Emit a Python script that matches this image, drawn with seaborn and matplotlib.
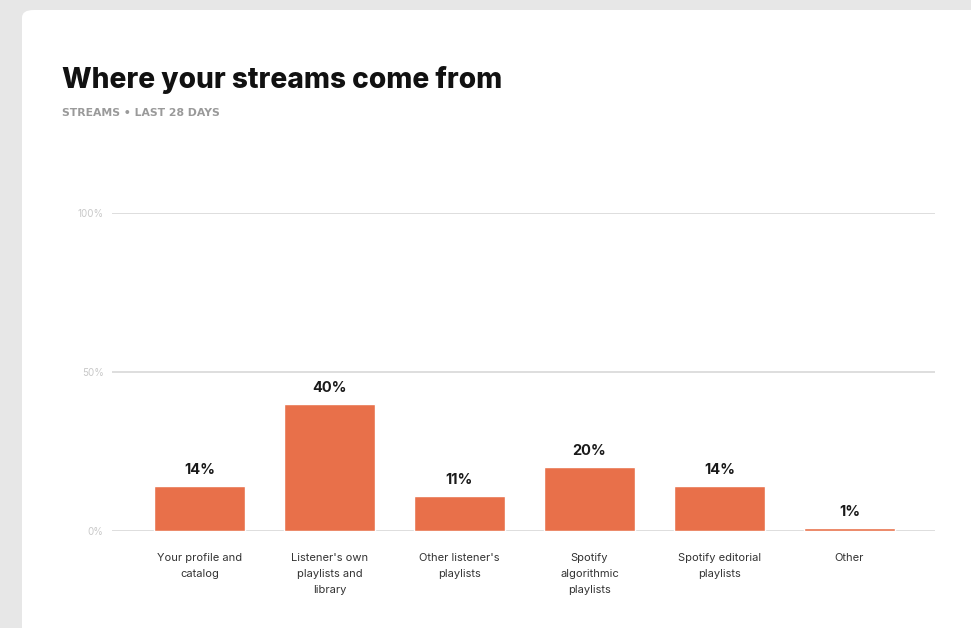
import matplotlib
matplotlib.use("Agg")
import matplotlib.pyplot as plt
from matplotlib.patches import FancyBboxPatch
import seaborn as sns
import pandas as pd

categories = [
    "Your profile and\ncatalog",
    "Listener's own\nplaylists and\nlibrary",
    "Other listener's\nplaylists",
    "Spotify\nalgorithmic\nplaylists",
    "Spotify editorial\nplaylists",
    "Other",
]
values = [14, 40, 11, 20, 14, 1]
value_labels = ["14%", "40%", "11%", "20%", "14%", "1%"]
ytick_values = [0, 50, 100]
ytick_labels = ["0%", "50%", "100%"]

title = "Where your streams come from"
subtitle = "STREAMS \u2022 LAST 28 DAYS"

sns.set_theme(style="white")
plt.rcParams["font.family"] = ["Inter", "DejaVu Sans"]

W, H = 971, 628
fig = plt.figure(figsize=(W / 100, H / 100), dpi=100)
fig.patch.set_facecolor("#e7e7e7")

# white card
card = FancyBboxPatch((22 / W, -0.05), 1.0, 1 - 10 / H + 0.05,
                      boxstyle="round,pad=0,rounding_size=0.012",
                      transform=fig.transFigure, facecolor="white",
                      edgecolor="none", zorder=-10)
fig.patches.append(card)

ax = fig.add_axes([112 / W, 1 - 531 / H, (935 - 112) / W, (531 - 213) / H])
ax.set_zorder(5)
ax.set_facecolor("none")

df = pd.DataFrame({"category": categories, "value": values})
sns.barplot(data=df, x="category", y="value", color="#e8704a",
            saturation=1, width=0.7, ax=ax, zorder=3)

ax.set_ylim(0, 100)
ax.set_xlim(-0.673, 5.658)
ax.set_yticks(ytick_values)
ax.set_yticklabels(ytick_labels, fontsize=7, color="#c8c8c8")
ax.yaxis.grid(True, color="#dedede", linewidth=1.44, zorder=0)
ax.set_axisbelow(True)
ax.tick_params(axis="y", length=0, pad=6)
ax.tick_params(axis="x", length=0, pad=16)
ax.set_xticks(range(len(categories)))
ax.set_xticklabels(categories, fontsize=8, color="#333333", linespacing=1.75, va="top")
for s in ax.spines.values():
    s.set_visible(False)
ax.set_xlabel("")
ax.set_ylabel("")

for i, (v, lab) in enumerate(zip(values, value_labels)):
    ax.annotate(lab, (i, v), xytext=(0, 6.5), textcoords="offset points",
                ha="center", va="bottom", fontsize=10.5, fontweight="bold",
                color="#1a1a1a")

fig.text(62 / W, 1 - 88 / H, title, fontsize=20.2, fontweight="heavy",
         color="#111111", ha="left", va="baseline")
fig.text(62 / W, 1 - 116 / H, subtitle, fontsize=7.8, fontweight="bold",
         family="DejaVu Sans", color="#9a9a9a", ha="left", va="baseline")

fig.savefig("out.png", dpi=100, facecolor=fig.get_facecolor())
